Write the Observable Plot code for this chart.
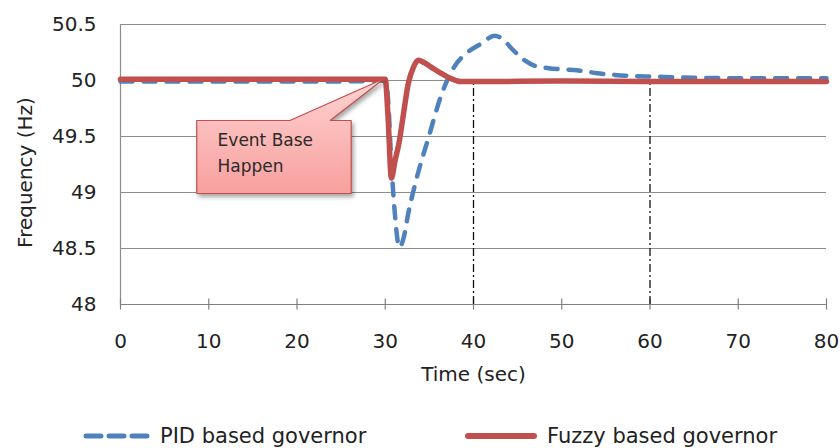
<!DOCTYPE html>
<html><head><meta charset="utf-8">
<script src="https://cdn.jsdelivr.net/npm/d3@7"></script>
<script src="https://cdn.jsdelivr.net/npm/@observablehq/plot@0.6"></script>
<style>
body{margin:0;background:#fff;font-family:"DejaVu Sans",sans-serif;}
#wrap{position:relative;width:840px;height:448px;overflow:hidden;}
#legend{position:absolute;left:0;top:422px;width:840px;height:28px;font-size:21px;color:#222;}
.item{position:absolute;top:0;height:28px;display:flex;align-items:center;white-space:nowrap;}
.item svg{margin-right:10px;}
</style></head><body><div id="wrap"><div id="chart"></div><div id="legend"></div></div>
<script>
// PID based governor
const timePID = [0, 10, 20, 28, 30, 30.3, 30.7, 31.1, 31.6, 32.1, 32.6, 33.5, 34.9, 36.4, 37.8, 39.3, 40.9, 42.4, 43.3, 44.5, 45.8, 47, 48.5, 50, 51.9, 54, 56, 58, 60.2, 65, 70, 75, 80];
const freqPID = [49.99, 49.99, 49.99, 49.995, 50.0, 49.85, 49.25, 48.8, 48.51, 48.6, 48.81, 49.11, 49.49, 49.88, 50.12, 50.25, 50.33, 50.40, 50.37, 50.27, 50.18, 50.13, 50.11, 50.1, 50.09, 50.065, 50.05, 50.04, 50.035, 50.025, 50.02, 50.02, 50.02];
// Fuzzy based governor
const timeFuzzy = [0, 10, 20, 30, 30.3, 30.7, 31.1, 31.6, 32.1, 32.6, 33.2, 33.75, 34.4, 35.2, 36.2, 37.1, 38.6, 40, 50, 60, 70, 80];
const freqFuzzy = [50.012, 50.012, 50.012, 50.012, 49.7, 49.13, 49.28, 49.46, 49.72, 49.97, 50.12, 50.18, 50.16, 50.12, 50.07, 50.03, 49.99, 49.99, 49.995, 49.99, 49.99, 49.99];
const xTicks = [0, 10, 20, 30, 40, 50, 60, 70, 80];
const yTicks = [48, 48.5, 49, 49.5, 50, 50.5];
const markerTimes = [40, 60];
// callout shape (data coordinates)
const calloutX = [8.64, 19.2, 29.9, 23.75, 26.14, 26.14, 8.64, 8.64];
const calloutY = [49.643, 49.643, 50.018, 49.643, 49.643, 48.991, 48.991, 49.643];
const calloutText = ["Event Base", "Happen"];
const calloutTextX = [11, 11];
const calloutTextY = [49.464, 49.232];
const seriesNames = ["PID based governor", "Fuzzy based governor"];
const seriesColors = ["#4f81bd", "#c0504d"];

const pid = timePID.map((t, i) => ({t, f: freqPID[i]}));
const fuzzy = timeFuzzy.map((t, i) => ({t, f: freqFuzzy[i]}));
const callout = calloutX.map((x, i) => ({x, y: calloutY[i]}));
const labels = calloutText.map((s, i) => ({s, x: calloutTextX[i], y: calloutTextY[i]}));

const chart = Plot.plot({
  width: 840, height: 412,
  marginLeft: 120, marginRight: 14, marginTop: 24, marginBottom: 108,
  style: {fontFamily: "DejaVu Sans, sans-serif", fontSize: "20px", color: "#222", background: "#fff"},
  x: {domain: [0, 80]},
  y: {domain: [48, 50.5]},
  marks: [
    Plot.gridY(yTicks, {stroke: "#8c8c8c", strokeOpacity: 1, strokeWidth: 1}),
    Plot.ruleX([0], {stroke: "#8c8c8c", strokeWidth: 1.2}),
    Plot.ruleY([48], {stroke: "#808080", strokeWidth: 1.2}),
    Plot.ruleX(xTicks, {y1: 47.95, y2: 48.05, stroke: "#808080", strokeWidth: 1.2}),
    Plot.axisY(yTicks, {tickSize: 0, tickPadding: 24, fontSize: 20, tickFormat: d => String(d), label: null}),
    Plot.axisX(xTicks, {tickSize: 0, tickPadding: 29, fontSize: 20, tickFormat: d => String(d), label: null}),
    Plot.text(["Time (sec)"], {frameAnchor: "bottom", dy: 76, fontSize: 20, fill: "#222"}),
    Plot.text(["Frequency (Hz)"], {frameAnchor: "left", textAnchor: "middle", rotate: -90, dx: -95, dy: 8, fontSize: 20, fill: "#222"}),
    Plot.ruleX(markerTimes, {y1: 48, y2: 50, stroke: "#111", strokeWidth: 1.3, strokeDasharray: "8,3,2,3"}),
    Plot.line(pid, {x: "t", y: "f", stroke: seriesColors[0], strokeWidth: 4.5, strokeDasharray: "12,11", strokeLinecap: "round", curve: "monotone-x"}),
    Plot.line(fuzzy, {x: "t", y: "f", stroke: seriesColors[1], strokeWidth: 5.5, strokeLinejoin: "round", curve: "monotone-x"}),
    Plot.line(callout, {x: "x", y: "y", fill: "url(#cg)", stroke: "#c0504d", strokeWidth: 1.2, strokeLinejoin: "miter", curve: "linear"}),
    Plot.text(labels, {x: "x", y: "y", text: "s", textAnchor: "start", fontSize: 17, fill: "#2a2a2a"})
  ]
});
document.getElementById("chart").appendChild(chart);

const svg = d3.select(chart);
const defs = svg.insert("defs", ":first-child");
const grad = defs.append("linearGradient").attr("id", "cg").attr("x1", 0).attr("y1", 0).attr("x2", 0).attr("y2", 1);
grad.append("stop").attr("offset", "0%").attr("stop-color", "#ffd3d2");
grad.append("stop").attr("offset", "100%").attr("stop-color", "#f7a09e");
svg.selectAll('g[fill="url(#cg)"]').style("filter", "drop-shadow(2px 3px 2px rgba(0,0,0,0.35))");

// legend
const legend = d3.select("#legend");
const lx = [83, 465];
const sw = [67, 72];
seriesNames.forEach((name, i) => {
  const item = legend.append("div").attr("class", "item").style("left", lx[i] + "px");
  const s = item.append("svg").attr("width", sw[i]).attr("height", 12);
  const ln = s.append("line").attr("x1", 3).attr("x2", sw[i] - 3).attr("y1", 6).attr("y2", 6)
    .attr("stroke", seriesColors[i]).attr("stroke-width", i === 0 ? 5 : 6).attr("stroke-linecap", "round");
  if (i === 0) ln.attr("stroke-dasharray", "15,8").attr("x1", 3).attr("x2", sw[i]);
  item.append("span").text(name);
});
</script>
</body></html>
